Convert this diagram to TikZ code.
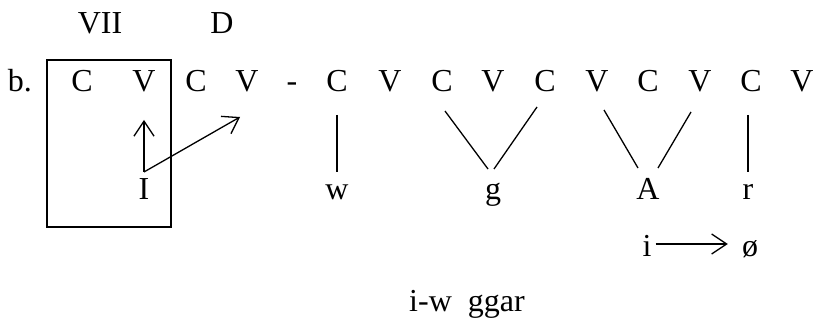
\documentclass[tikz,border=0pt]{standalone}
\usepackage{fontspec}
\setmainfont{Liberation Serif}
\usetikzlibrary{arrows.meta}
\tikzset{
  seg/.style={anchor=base, inner sep=0pt, font=\fontsize{32}{38}\selectfont},
  ln/.style={line width=1.3pt},
  arr/.style={line width=1.3pt, -{Straight Barb[length=15pt,width=20pt,line width=1.3pt]}}
}
\begin{document}
\begin{tikzpicture}[x=1pt,y=-1pt]
\useasboundingbox (0,0) rectangle (815,323);
% top labels
\node[seg] (vii) at (100,34) {VII};
\node[seg] (d) at (222,34) {D};
% row
\node[seg] (b) at (20,92) {b.};
\node[seg] (c1) at (82,92) {C};
\node[seg] (v1) at (144,92) {V};
\node[seg] (c2) at (196,92) {C};
\node[seg] (v2) at (247,92) {V};
\node[seg] (dash) at (292,92) {-};
\node[seg] (c3) at (337,92) {C};
\node[seg] (v3) at (390,92) {V};
\node[seg] (c4) at (442,92) {C};
\node[seg] (v4) at (493,92) {V};
\node[seg] (c5) at (545,92) {C};
\node[seg] (v5) at (597,92) {V};
\node[seg] (c6) at (648,92) {C};
\node[seg] (v6) at (700,92) {V};
\node[seg] (c7) at (751,92) {C};
\node[seg] (v7) at (802,92) {V};
% box
\draw[ln] (47,60) rectangle (171,227);
% bottom row
\node[seg] (I) at (144,200) {I};
\node[seg] (w) at (337,200) {w};
\node[seg] (g) at (493,200) {g};
\node[seg] (A) at (648,200) {A};
\node[seg] (r) at (748,200) {r};
\node[seg] (i) at (647,257) {i};
\node[seg] (o) at (750,257) {ø};
\node[seg] (word) at (467,312) {i-w\ \ ggar};
% connectors
\coordinate (Itop) at ([shift={(0,-28)}]I.base);
\draw[arr] (Itop) -- ([shift={(0,28)}]v1.base);
\draw[arr] (Itop) -- ([shift={(-7,25)}]v2.base);
\draw[ln] ([shift={(0,23)}]c3.base) -- ([shift={(0,-28)}]w.base);
\draw[ln] ([shift={(3,19)}]c4.base) -- ([shift={(-5,-31)}]g.base);
\draw[ln] ([shift={(-8,15)}]c5.base) -- ([shift={(1,-31)}]g.base);
\draw[ln] ([shift={(-96,18)}]v6.base) -- ([shift={(-10,-32)}]A.base);
\draw[ln] ([shift={(-9,20)}]v6.base) -- ([shift={(10,-32)}]A.base);
\draw[ln] ([shift={(0,23)}]r.base |- c7.base) -- ([shift={(0,-28)}]r.base);
\draw[arr] ([shift={(4,-13)}]i.base east) -- ([shift={(-14,-13)}]o.base west);
\end{tikzpicture}
\end{document}
